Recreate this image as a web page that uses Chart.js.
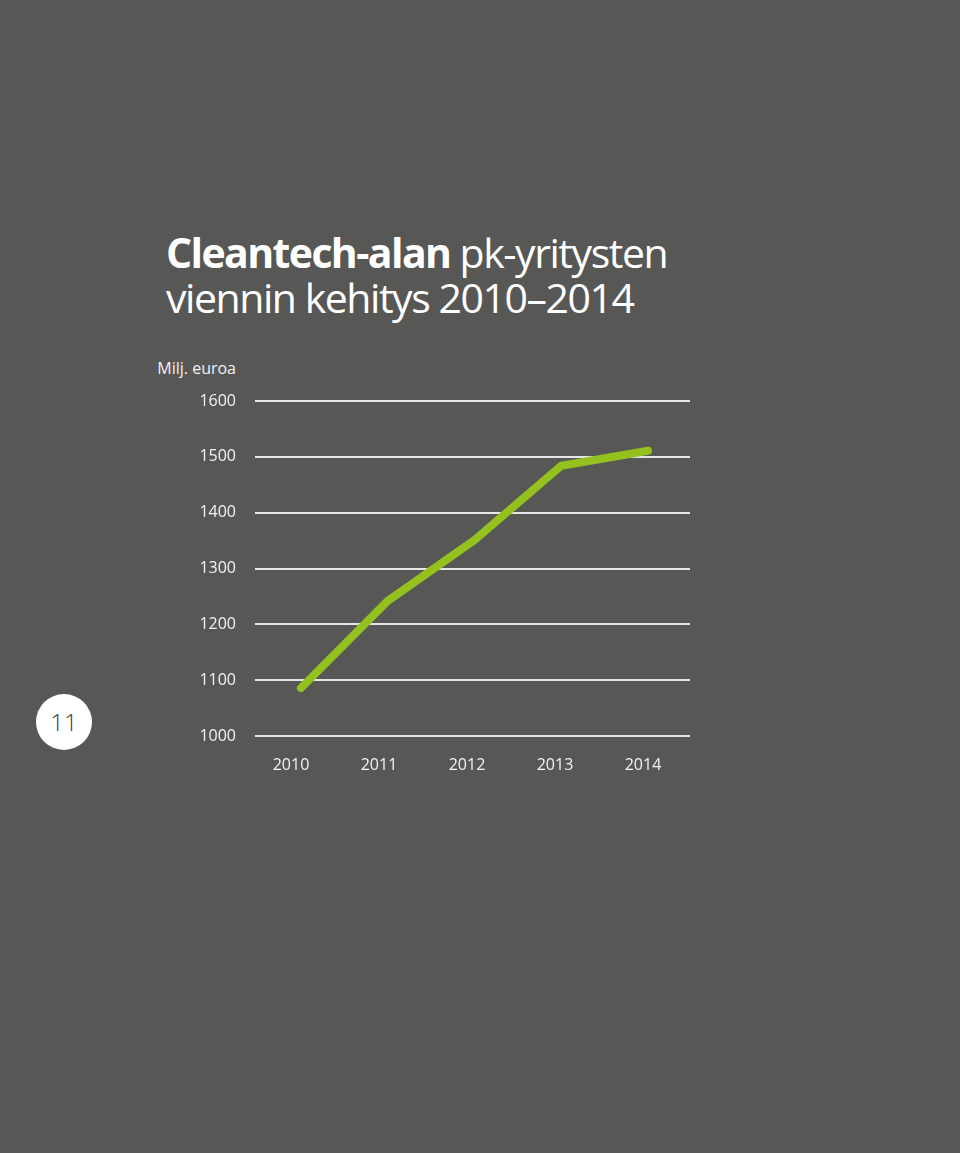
<!DOCTYPE html>
<html>
<head>
<meta charset="utf-8">
<script src="https://cdn.jsdelivr.net/npm/chart.js@4"></script>
<style>
  html, body { margin: 0; padding: 0; background: #575756; }
  body { width: 960px; height: 1153px; position: relative; overflow: hidden; font-family: "Open Sans", sans-serif; }
  #c { position: absolute; left: 0; top: 0; }
  .title { position: absolute; left: 166px; top: 230px; color: #ffffff; font-size: 41px; line-height: 45px; letter-spacing: -1.45px; white-space: nowrap; }
  .title b { font-weight: 700; letter-spacing: -1.6px; }
  .unit { position: absolute; right: 724px; top: 357px; color: #f2f2f2; font-size: 16px; white-space: nowrap; }
  .badge { position: absolute; left: 36px; top: 694px; width: 56px; height: 56px; border-radius: 50%; background: #ffffff; color: #3c3c3b; font-size: 24px; font-weight: 300; line-height: 56px; text-align: center; }
</style>
</head>
<body>
<div class="title"><b>Cleantech-alan</b> pk-yritysten<br>viennin kehitys 2010–2014</div>
<div class="unit">Milj. euroa</div>
<div class="badge">11</div>
<canvas id="c" width="960" height="1153"></canvas>
<script>
const years = ["2010", "2011", "2012", "2013", "2014"];
const exports = [1086, 1242, 1351, 1484, 1511];
const yTicks = [1000, 1100, 1200, 1300, 1400, 1500, 1600];

new Chart(document.getElementById('c'), {
  type: 'line',
  data: {
    datasets: [{
      data: exports.map((v, i) => ({ x: i, y: v })),
      borderColor: '#95c11f',
      borderWidth: 8,
      borderCapStyle: 'round',
      borderJoinStyle: 'miter',
      pointRadius: 0,
      tension: 0,
      fill: false,
      clip: false,
      xAxisID: 'x',
      yAxisID: 'y'
    }]
  },
  options: {
    responsive: false,
    animation: false,
    layout: { padding: { left: 0, right: 270, top: 401, bottom: 0 } },
    plugins: { legend: { display: false }, tooltip: { enabled: false } },
    scales: {
      x: {
        type: 'linear',
        display: false,
        min: -0.53,
        max: 4.484
      },
      x2: {
        type: 'linear',
        position: 'bottom',
        min: -0.409,
        max: 4.534,
        grid: { display: false },
        border: { display: false },
        afterBuildTicks: (s) => { s.ticks = years.map((y, i) => ({ value: i })); },
        afterFit: (s) => { s.height = 417; },
        ticks: {
          autoSkip: false,
          maxRotation: 0,
          padding: 12,
          color: '#f2f2f2',
          font: { family: 'Open Sans', size: 16 },
          callback: (v) => years[v]
        }
      },
      y: {
        min: 1000,
        max: 1600,
        afterBuildTicks: (s) => { s.ticks = yTicks.map(v => ({ value: v })); },
        afterFit: (s) => { s.width = 255; },
        border: { display: false },
        grid: { color: '#e6e6e6', lineWidth: 2, drawTicks: false },
        ticks: {
          padding: 19,
          color: '#f2f2f2',
          font: { family: 'Open Sans', size: 16 },
          callback: (v) => String(v)
        }
      }
    }
  }
});
</script>
</body>
</html>
